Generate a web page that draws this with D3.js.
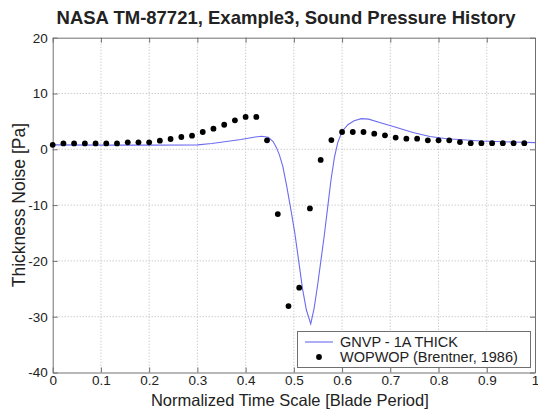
<!DOCTYPE html>
<html><head><meta charset="utf-8">
<script src="https://cdn.jsdelivr.net/npm/d3@7"></script>
<style>body{margin:0;background:#fff}svg{display:block}text{font-family:Arial,"Liberation Sans",sans-serif}</style>
</head><body><svg id="c" width="538" height="411"></svg>
<script>
const xTicks = [0,0.1,0.2,0.3,0.4,0.5,0.6,0.7,0.8,0.9,1];
const xTickLabels = ["0","0.1","0.2","0.3","0.4","0.5","0.6","0.7","0.8","0.9","1"];
const yTicks = [-40,-30,-20,-10,0,10,20];
const yTickLabels = ["-40","-30","-20","-10","0","10","20"];

const gnvpX = [0,0.1,0.2,0.3,0.33,0.36,0.39,0.42,0.433,0.447,0.457,0.464,0.470,0.477,0.485,0.494,0.502,0.510,0.518,0.526,0.535,0.542,0.549,0.556,0.563,0.570,0.577,0.584,0.591,0.600,0.612,0.625,0.640,0.655,0.678,0.713,0.747,0.782,0.817,0.851,0.886,0.920,0.955,1.0];
const gnvpY = [0.8,0.75,0.75,0.8,1.05,1.4,1.75,2.2,2.35,2.15,1.4,0.3,-1.0,-3.0,-6.5,-10.9,-15,-20,-25,-28.8,-31.3,-28.5,-24.5,-20,-15.5,-10.5,-5.5,-1.5,1.2,3.2,4.4,5.1,5.5,5.4,4.8,3.9,3.0,2.3,1.9,1.7,1.5,1.4,1.3,1.2];

const wopX = [0,0.0222,0.0444,0.0667,0.0889,0.1111,0.1333,0.1556,0.1778,0.2,0.2222,0.2444,0.2667,0.2889,0.3111,0.3333,0.3556,0.3778,0.4,0.4222,0.4444,0.4667,0.4889,0.5111,0.5333,0.5556,0.5778,0.6,0.6222,0.6444,0.6667,0.6889,0.7111,0.7333,0.7556,0.7778,0.8,0.8222,0.8444,0.8667,0.8889,0.9111,0.9333,0.9556,0.9778];
const wopY = [0.8,1.05,1.05,1.05,1.05,1.05,1.05,1.25,1.25,1.25,1.55,1.85,2.2,2.45,3.1,3.7,4.4,5.2,5.8,5.8,1.6,-11.6,-28.1,-24.8,-10.6,-1.9,1.65,3.1,3.1,3.1,2.8,2.5,2.1,1.9,1.9,1.6,1.6,1.6,1.3,1.1,1.1,1.1,1.1,1.1,1.1];

const legendLabels = ["GNVP - 1A THICK","WOPWOP (Brentner, 1986)"];
const titleText = "NASA TM-87721, Example3, Sound Pressure History";
const xTitle = "Normalized Time Scale [Blade Period]";
const yTitle = "Thickness Noise [Pa]";

const L=52.7, R=535, T=37.7, B=372.5;
const svg = d3.select("#c");
const x = d3.scaleLinear().domain([0,1]).range([L,R]);
const y = d3.scaleLinear().domain([-40,20]).range([B,T]);

// grid
const g = svg.append("g");
g.selectAll(".gx").data(xTicks.slice(1,-1)).join("line")
  .attr("x1",d=>x(d)).attr("x2",d=>x(d)).attr("y1",T).attr("y2",B)
  .attr("stroke","#b8b8b8").attr("stroke-width",1).attr("stroke-dasharray","1,2");
g.selectAll(".gy").data(yTicks.slice(1,-1)).join("line")
  .attr("y1",d=>y(d)).attr("y2",d=>y(d)).attr("x1",L).attr("x2",R)
  .attr("stroke","#b8b8b8").attr("stroke-width",1).attr("stroke-dasharray","1,2");

// axes
const axCol="#707070";
const xb = svg.append("g").attr("transform",`translate(0,${B})`)
  .call(d3.axisBottom(x).tickValues(xTicks).tickFormat((d,i)=>xTickLabels[i]).tickSizeInner(-5).tickSizeOuter(0).tickPadding(3));
const xt = svg.append("g").attr("transform",`translate(0,${T})`)
  .call(d3.axisTop(x).tickValues(xTicks).tickFormat("").tickSizeInner(-5).tickSizeOuter(0));
const yl = svg.append("g").attr("transform",`translate(${L},0)`)
  .call(d3.axisLeft(y).tickValues(yTicks).tickFormat((d,i)=>yTickLabels[i]).tickSizeInner(-5).tickSizeOuter(0).tickPadding(5));
const yr = svg.append("g").attr("transform",`translate(${R},0)`)
  .call(d3.axisRight(y).tickValues(yTicks).tickFormat("").tickSizeInner(-5).tickSizeOuter(0));
[xb,xt,yl,yr].forEach(a=>{
  a.selectAll("path").attr("stroke",axCol);
  a.selectAll("line").attr("stroke",axCol);
  a.selectAll("text").attr("fill","#222").style("font-size","13.5px").style("font-family","Arial, 'Liberation Sans', sans-serif");
});
yl.selectAll("text").attr("dy","0.32em");

// data
const line = d3.line().x((d,i)=>x(gnvpX[i])).y(d=>y(d));
svg.append("path").datum(gnvpY).attr("d",line).attr("fill","none")
  .attr("stroke","#6b6bf0").attr("stroke-width",1.1);
svg.append("g").selectAll("circle").data(wopY).join("circle")
  .attr("cx",(d,i)=>x(wopX[i])).attr("cy",d=>y(d)).attr("r",2.9).attr("fill","#000");

// legend
const lg = svg.append("g");
lg.append("rect").attr("x",297.5).attr("y",331.5).attr("width",233).attr("height",36)
  .attr("fill","#fff").attr("stroke","#707070").attr("stroke-width",1);
lg.append("line").attr("x1",305).attr("x2",333).attr("y1",342).attr("y2",342)
  .attr("stroke","#6b6bf0").attr("stroke-width",1.1);
lg.append("circle").attr("cx",319).attr("cy",357).attr("r",2.9).attr("fill","#000");
lg.selectAll("text").data(legendLabels).join("text")
  .attr("x",340).attr("y",(d,i)=>342+i*15).attr("dy","0.35em")
  .style("font-size","14.5px").attr("fill","#222").text(d=>d);

// titles
svg.append("text").attr("x",286).attr("y",24).attr("text-anchor","middle")
  .style("font-size","18.5px").style("font-weight","bold").attr("fill","#222").text(titleText);
svg.append("text").attr("x",(L+R)/2 - 4).attr("y",405.5).attr("text-anchor","middle")
  .style("font-size","16.5px").attr("fill","#222").text(xTitle);
svg.append("text").attr("transform",`translate(25,${(T+B)/2}) rotate(-90)`).attr("text-anchor","middle")
  .style("font-size","17.5px").attr("fill","#222").text(yTitle);
</script></body></html>
